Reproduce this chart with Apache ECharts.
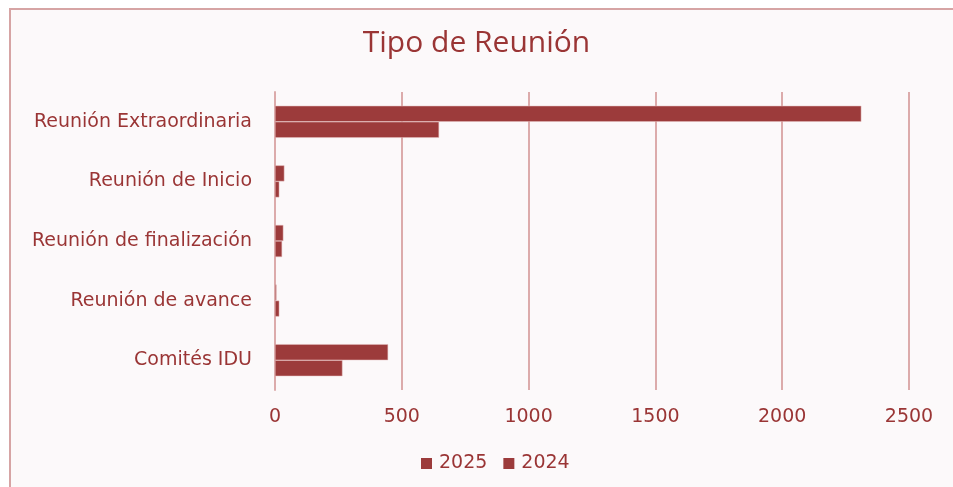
<!DOCTYPE html>
<html>
<head>
<meta charset="utf-8">
<script src="https://cdn.jsdelivr.net/npm/echarts@6/dist/echarts.min.js"></script>
<style>
  html, body { margin: 0; padding: 0; background: #ffffff; }
  #frame {
    position: absolute; left: 9px; top: 8px; width: 960px; height: 500px;
    border: 2px solid #d6a4a4; background: #fcf9fa;
  }
  #chart { position: absolute; left: 0; top: 0; width: 953px; height: 487px; }
</style>
</head>
<body>
<div id="frame"></div>
<div id="chart"></div>
<script>
const categories = [
  "Reunión Extraordinaria",
  "Reunión de Inicio",
  "Reunión de finalización",
  "Reunión de avance",
  "Comités IDU"
];
const values2025 = [2312, 37, 33, 6, 446];
const values2024 = [647, 17, 28, 17, 266];
const xTicks = [0, 500, 1000, 1500, 2000, 2500];

const barColor = "#9c3b3b";
const textColor = "#9a3535";
const lineColor = "#dcabab";
const font = "DejaVu Sans";

const chart = echarts.init(document.getElementById("chart"));

const option = {
  backgroundColor: "transparent",
  animation: false,
  title: {
    text: "Tipo de Reunión",
    left: "center",
    top: 23,
    textStyle: { color: textColor, fontFamily: "Open Sans", fontSize: 30, fontWeight: "normal" }
  },
  legend: {
    data: ["2025", "2024"],
    bottom: 9,
    left: 416,
    icon: "rect",
    itemWidth: 11,
    itemHeight: 11,
    itemGap: 16,
    itemStyle: { borderWidth: 0 },
    textStyle: { color: textColor, fontFamily: font, fontSize: 19, padding: [0, 0, 0, 2] }
  },
  grid: { left: 275, top: 92, width: 634, height: 298, containLabel: false },
  xAxis: {
    type: "value",
    min: xTicks[0],
    max: xTicks[xTicks.length - 1],
    interval: 500,
    axisLine: { show: false },
    axisTick: { show: false },
    axisLabel: {
      color: textColor, fontFamily: font, fontSize: 19, margin: 18,
      formatter: (v) => String(v)
    },
    splitLine: { show: true, lineStyle: { color: lineColor, width: 2 } }
  },
  yAxis: {
    type: "category",
    inverse: true,
    data: categories,
    axisLine: { show: true, lineStyle: { color: lineColor, width: 2 } },
    axisTick: { show: false },
    axisLabel: { color: textColor, fontFamily: font, fontSize: 19, margin: 23 }
  },
  series: [
    {
      name: "2025",
      type: "bar",
      data: values2025,
      barWidth: 16,
      barGap: "0%",
      itemStyle: { color: barColor, borderColor: "#e4bcbc", borderWidth: 0.5 }
    },
    {
      name: "2024",
      type: "bar",
      data: values2024,
      barWidth: 16,
      barGap: "0%",
      itemStyle: { color: barColor, borderColor: "#e4bcbc", borderWidth: 0.5 }
    }
  ]
};

chart.setOption(option);
</script>
</body>
</html>
